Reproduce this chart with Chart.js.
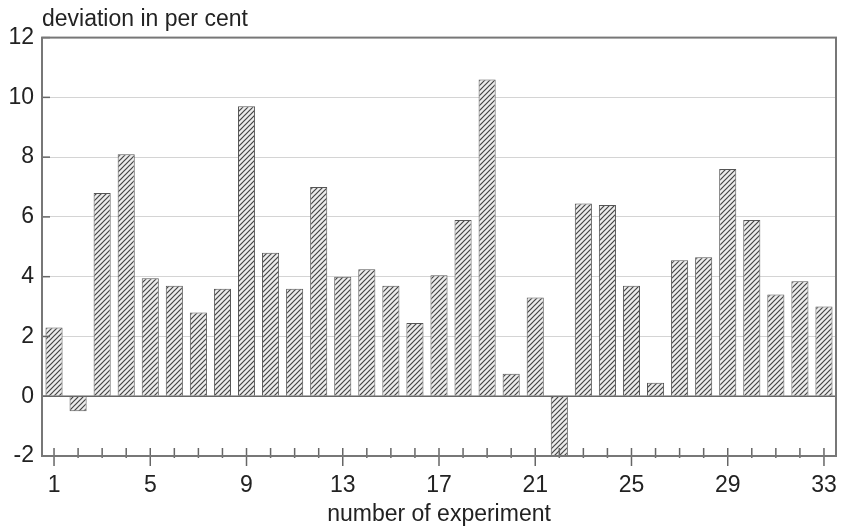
<!DOCTYPE html>
<html>
<head>
<meta charset="utf-8">
<script src="https://cdn.jsdelivr.net/npm/chart.js@4"></script>
<style>
  body { margin: 0; background: #fff; }
  #wrap { width: 851px; height: 528px; }
</style>
</head>
<body>
<div id="wrap"><canvas id="myChart"></canvas></div>
<script>
// datos
const experiments = [1,2,3,4,5,6,7,8,9,10,11,12,13,14,15,16,17,18,19,20,21,22,23,24,25,26,27,28,29,30,31,32,33];
const deviation = [2.3, -0.5, 6.8, 8.1, 3.95, 3.7, 2.8, 3.6, 9.7, 4.8, 3.6, 7.0, 4.0, 4.25, 3.7, 2.45, 4.05, 5.9, 10.6, 0.75, 3.3, -2.0, 6.45, 6.4, 3.7, 0.45, 4.55, 4.65, 7.6, 5.9, 3.4, 3.85, 3.0];
const yTicks = [-2, 0, 2, 4, 6, 8, 10, 12];

// rayado diagonal
function hatch() {
    const c = document.createElement('canvas');
    c.width = 5; c.height = 5;
    const g = c.getContext('2d');
    g.fillStyle = '#ececec';
    g.fillRect(0, 0, 5, 5);
    g.strokeStyle = '#444';
    g.lineWidth = 1.2;
    g.beginPath();
    g.moveTo(0, 5); g.lineTo(5, 0);
    g.moveTo(-1, 1); g.lineTo(1, -1);
    g.moveTo(4, 6); g.lineTo(6, 4);
    g.stroke();
    return g.createPattern(c, 'repeat');
}

// marcas de escala y marco
const frame = {
    id: 'frame',
    afterDraw(chart) {
        const { ctx, chartArea: a, scales } = chart;
        ctx.save();
        ctx.strokeStyle = '#666';
        ctx.lineWidth = 1.5;
        experiments.forEach((e, i) => {
            const x = scales.x.getPixelForValue(i);
            const big = i % 4 === 0;
            ctx.beginPath();
            ctx.moveTo(x, a.bottom - 8);
            ctx.lineTo(x, a.bottom + (big ? 10 : 2));
            ctx.stroke();
        });
        yTicks.forEach(v => {
            const y = scales.y.getPixelForValue(v);
            ctx.beginPath();
            ctx.moveTo(a.left, y);
            ctx.lineTo(a.left + 8, y);
            ctx.stroke();
        });
        const y0 = scales.y.getPixelForValue(0);
        ctx.beginPath();
        ctx.moveTo(a.left, y0);
        ctx.lineTo(a.right, y0);
        ctx.stroke();
        ctx.strokeStyle = '#777';
        ctx.lineWidth = 2;
        ctx.strokeRect(a.left, a.top, a.right - a.left, a.bottom - a.top);
        ctx.restore();
    }
};

const ctx = document.getElementById('myChart').getContext('2d');
const myChart = new Chart(ctx, {
    type: 'bar',
    data: {
        labels: experiments,
        datasets: [{
            data: deviation,
            backgroundColor: hatch(),
            borderColor: '#555',
            borderWidth: 1,
            barPercentage: 0.71,
            categoryPercentage: 1
        }]
    },
    options: {
        responsive: true,
        maintainAspectRatio: false,
        animation: false,
        layout: { padding: { left: 0, right: 15, top: 6, bottom: 0 } },
        plugins: {
            legend: { display: false },
            tooltip: { enabled: false },
            title: {
                display: true,
                text: 'deviation in per cent',
                align: 'start',
                fullSize: false,
                color: '#222',
                font: { family: 'Liberation Sans, Arial, sans-serif', size: 23, weight: 'normal' },
                padding: { top: 0, bottom: 4 }
            }
        },
        scales: {
            x: {
                grid: { display: false },
                border: { display: false },
                ticks: {
                    autoSkip: false,
                    maxRotation: 0,
                    padding: 8,
                    color: '#222',
                    font: { family: 'Liberation Sans, Arial, sans-serif', size: 23 },
                    callback: (v, i) => (i % 4 === 0 ? experiments[i] : '')
                },
                title: {
                    display: true,
                    text: 'number of experiment',
                    color: '#222',
                    font: { family: 'Liberation Sans, Arial, sans-serif', size: 23 },
                    padding: { top: 0, bottom: 0 }
                },
                afterFit: s => { s.height = 72; }
            },
            y: {
                min: -2,
                max: 12,
                grid: { color: '#d4d4d4', lineWidth: 1, drawTicks: false },
                border: { display: false },
                ticks: {
                    stepSize: 2,
                    padding: 8,
                    color: '#222',
                    font: { family: 'Liberation Sans, Arial, sans-serif', size: 23 }
                },
                afterFit: s => { s.width = 42; }
            }
        }
    },
    plugins: [frame]
});
</script>
</body>
</html>
